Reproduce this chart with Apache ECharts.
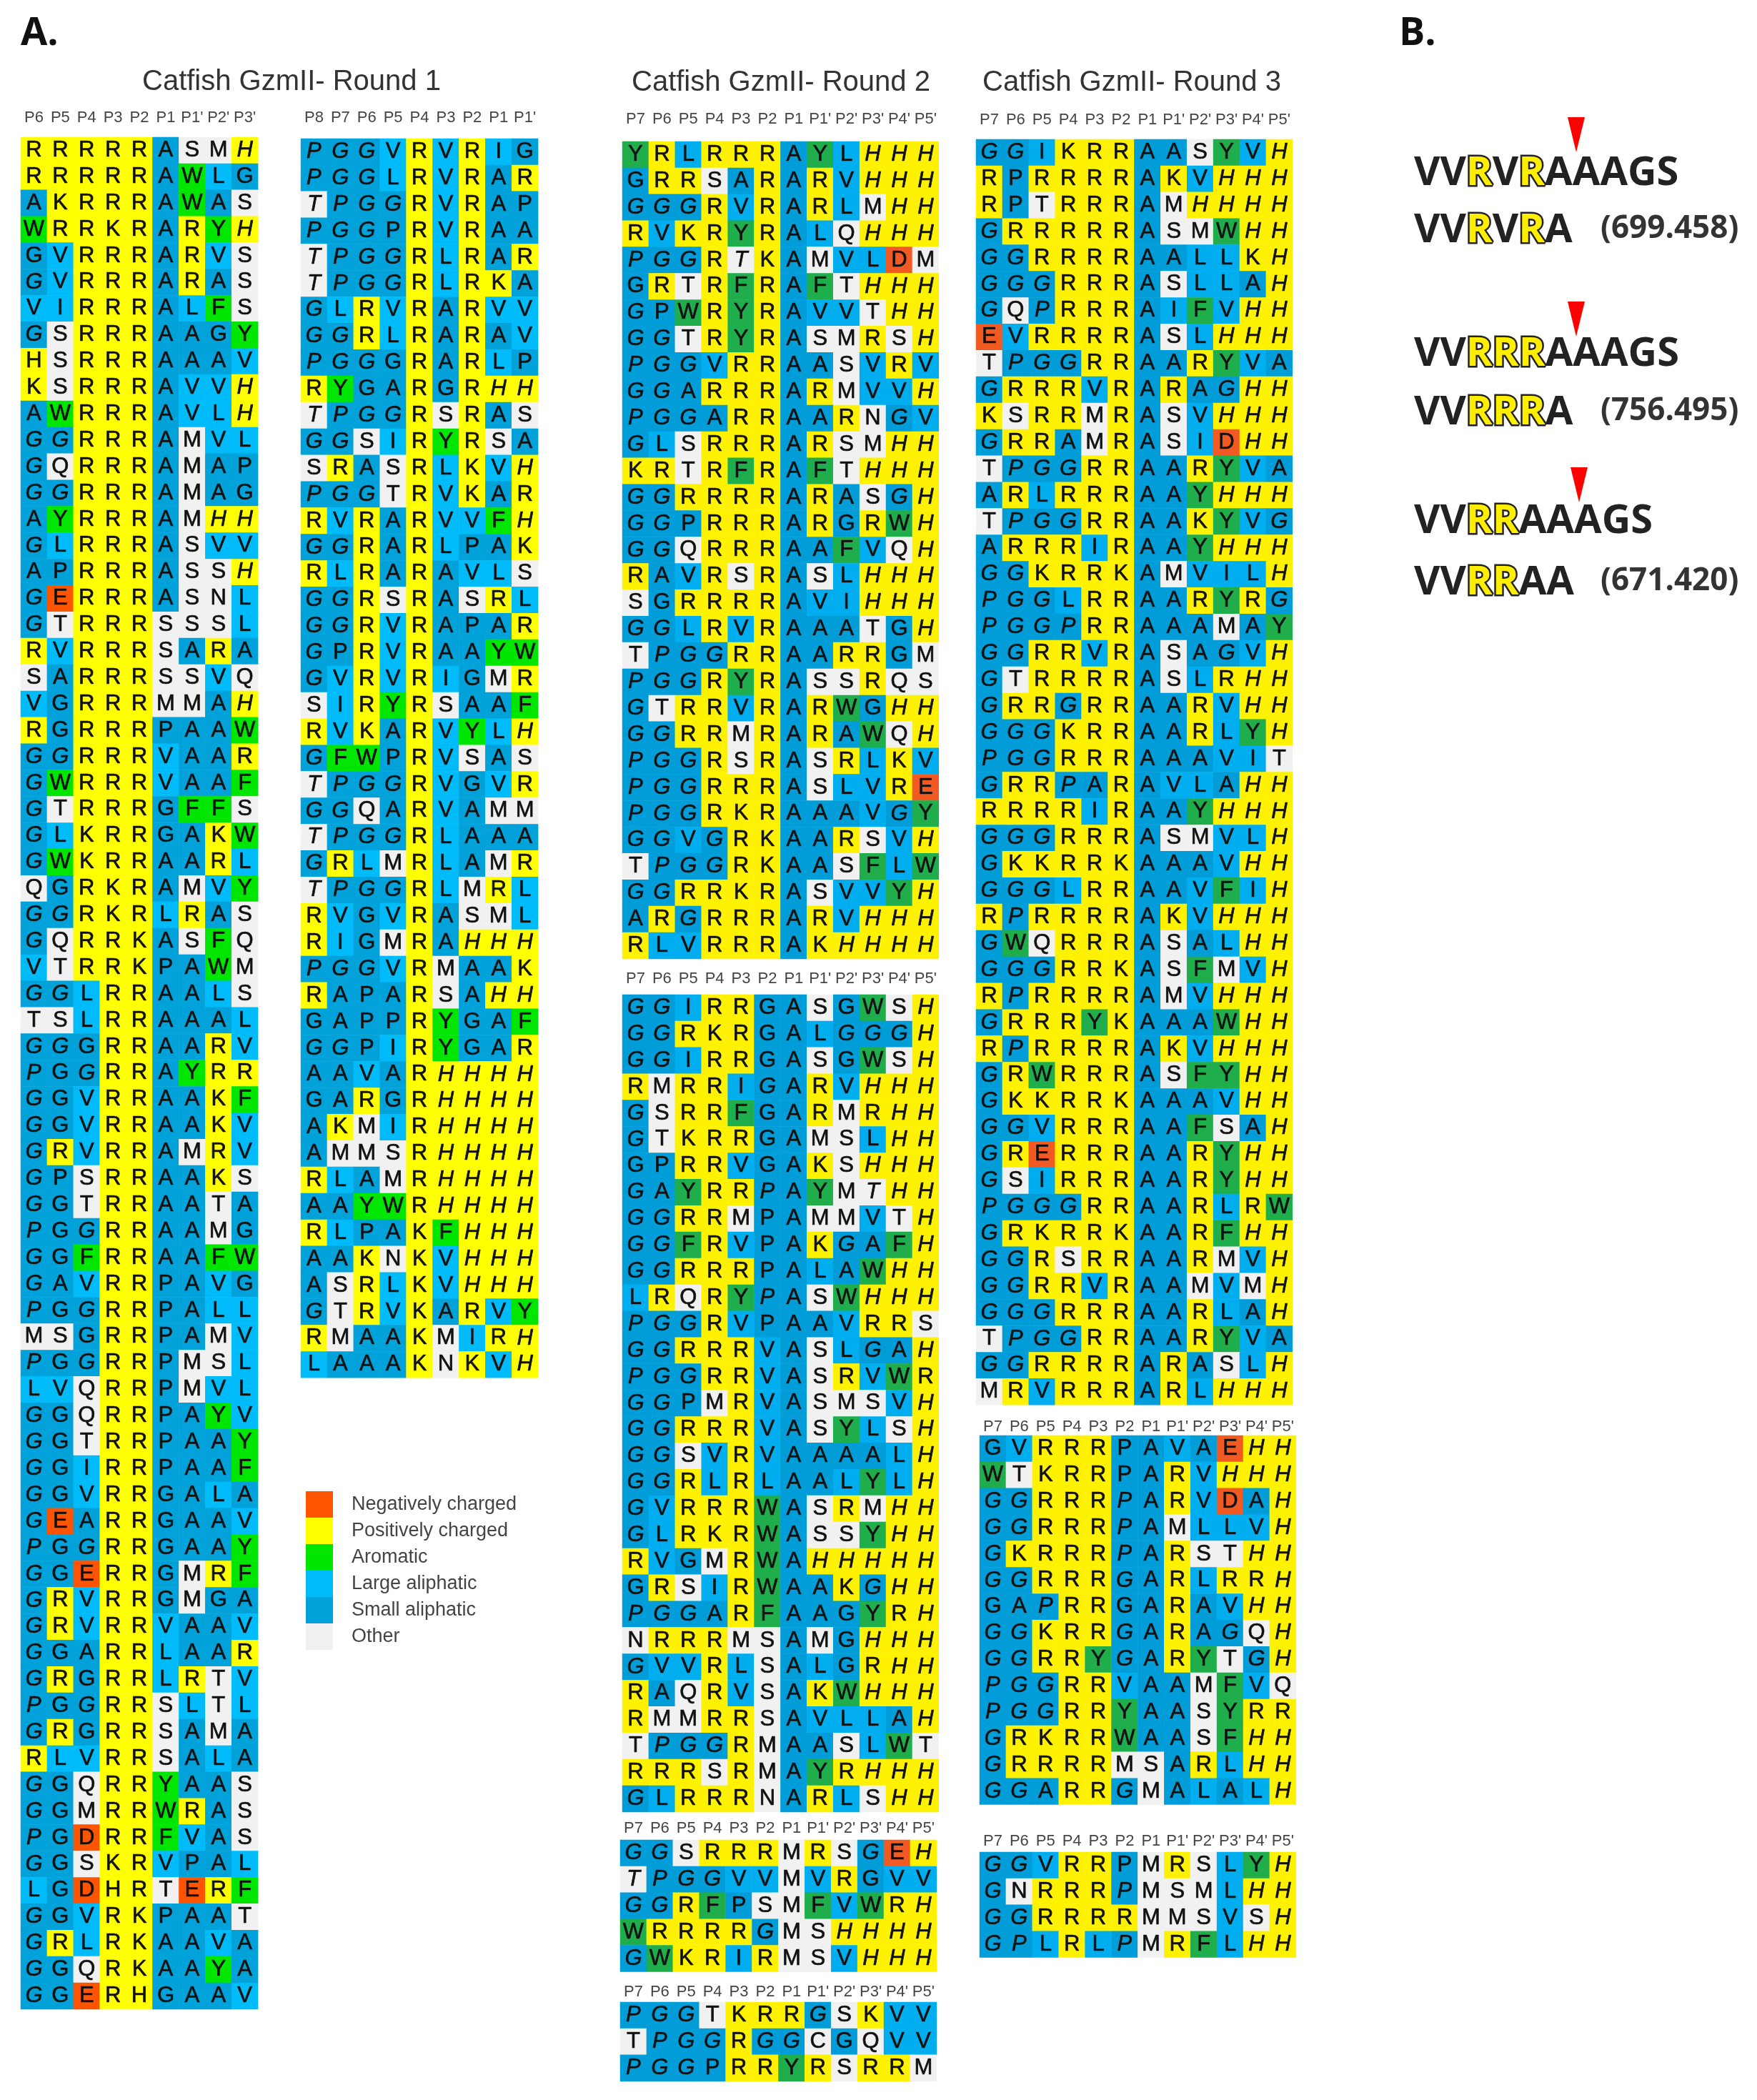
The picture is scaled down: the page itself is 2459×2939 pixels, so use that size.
<!DOCTYPE html>
<html>
<head>
<meta charset="utf-8">
<title>Catfish GzmII</title>
<script src="https://cdn.jsdelivr.net/npm/echarts@6/dist/echarts.min.js"></script>
<style>body { margin: 0; background: #fff; }</style>
</head>
<body>
<div id="chart" style="width: 2459px; height: 2939px;"></div>
<script>
// sequences; lowercase = letter printed in italics there
var round1A = ['RRRRRASMh','RRRRRAWLG','AKRRRAWAS','WRRKRARYh','GVRRRARVS','gVRRRARAS','VIRRRALFS','gSRRRAAGY','HSRRRAAAV','KSRRRAVVh','AWRRRAVLh','ggRRRAMVL','gQRRRAMAP','ggRRRAMAG','AYRRRAMhh',
  'gLRRRASVV','APRRRASSh','gERRRASNL','gTRRRSSSL','RVRRRSARA','SARRRSSVQ','VGRRRMMAh','RGRRRPAAW','ggRRRVAAR','gWRRRVAAF','gTRRRGFFS','gLKRRGAKW','gWKRRAARL','QGRKRAMVY','ggRKRLRAS','gQRRKASFQ','VTRRKPAWM','ggLRRAALS','TSLRRAAAL',
  'ggGRRAARV','pGgRRAYRR','gGVRRAAKF','gGVRRAAKV','gRVRRAMRV','gPSRRAAKS','gGTRRAATA','pGgRRAAMG','gGFRRAAFW','gAVRRPAVG','pGgRRPALL','MSGRRPAMV','pGgRRPMSL','LVQRRPMVL','gGQRRPAYV','gGTRRPAAY','gGIRRPAAF','gGVRRGALA','gEARRGAAV','pGgRRGAAY',
  'gGERRGMRF','gRVRRGMGA','gRVRRVAAV','gGARRLAAR','gRGRRLRTV','pGgRRSLTL','gRGRRSAMA','RLVRRSALA','gGQRRYAAS','gGMRRWRAS','pGDRRFVAS','gGSKRVPAL','LGDHRTERF','gGVRKPAAT','gRLRKAAVA','gGQRKAAYA','gGERHGAAV'];

var round1B = ['pggVRVRIG','pggLRVRAR','tpggRVRAP','pggPRVRAA','tpggRLRAR','tpggRLRKA','gLRVRARVV','ggRLRARAV','pggGRARLP','RYGARGRhh','tpggRSRAS','ggSIRYRSA','SRASRLKVh','pggTRVKAR','RVRARVVFh',
  'ggRARLPAK','RLRARAVLS','ggRSRASRL','ggRVRAPAR','gPRVRAAYW','gVRVRIGMR','SIRYRSAAF','RVKARVYLh','gFWPRVSAS','tpggRVGVR','ggQARVAMM','tpggRLAAA','gRLMRLAMR','tpggRLMRL','RVGVRASML','RIGMRAhhh','pggVRMAAK','RAPARSAhh','GAPPRYGAF',
  'ggPIRYGAR','AAVARhhhh','GARGRhhhh','AKMIRhhhh','AMMSRhhhh','RLAMRhhhh','AAYWRhhhh','RLPAKFhhh','AAKNKVhhh','ASRLKVhhh','gTRVKARVY','RMAAKMIRh','LAAAKNKVh'];

var round2A = ['YRLRRRAYLhhh','GRRSARARVhhh','gggRVRARLMhh','RVKRYRALQhhh','pggRtKAMVLDM','GRTRFRAFThhh','gPWRYRAVVThh','ggTRYRASMRSh','pggVRRAASVRV','ggARRRARMVVh','pggARRAARNgV','gLSRRRARSMhh','KRTRFRAFThhh','ggRRRRARASgh','ggPRRRARGRWh','ggQRRRAAFVQh',
  'RAVRSRASLhhh','SGRRRRAVIhhh','ggLRVRAAATGh','TpggRRAARRGM','pggRYRASSRQS','gTRRVRARWGhh','ggRRMRARAWQh','pggRSRASRLKV','pggRRRASLVRE','pggRKRAAAVgY','ggVgRKAARSVh','TpggRKAASFLW','ggRRKRASVVYh','ARgRRRARVhhh','RLVRRRAKhhhh'];

var round2B = ['ggIRRGASGWSh','ggRKRGALgggh','ggIRRGASGWSh',
  'RMRRIgARVhhh','gSRRFGARMRhh','gTKRRGAMSLhh','GPRRVGAKShhh','gAYRRpAYMthh','ggRRMPAMMVTh','ggFRVPAKgAFh','ggRRRPALAWhh','LRQRYpASWhhh','pggRVPAAVRRS','ggRRRVASLgAh','pggRRVASRVWR','ggPMRVASMSVh','ggRRRVASYLSh','ggSVRVAAAALh','ggRLRLAALYLh','gVRRRWASRMhh','gLRKRWASSYhh','RVGMRWAhhhhh','GRSIRWAAKghh',
  'pggARFAAGYRh','NRRRMSAMGhhh','gVVRLSALGRhh','RAQRVSAKWhhh','RMMRRSAVLLAh','TpggRMAASLWT','RRRSRMAYRhhh','gLRRRNARLShh'];

var round2C = ['ggSRRRMRSgEh','tpggVVMVRGVV','ggRFPSMFVWRh','WRRRRgMShhhh','gWKRIRMSVhhh'];
var round2D = ['pggTKRRgSKVV','TpggRggCGQVV','pggPRRYRSRRM'];

var round3A = ['ggIKRRAASYVh','RPRRRRAKVhhh','RPTRRRAMhhhh','gRRRRRASMWhh','ggRRRRAALLKh','gggRRRASLLAh','gQpRRRAIFVhh','EVRRRRASLhhh','TpggRRAARYVA','gRRRVRARAghh','KSRRMRASVhhh','gRRAMRASIDhh','TpggRRAARYVA','ARLRRRAAYhhh','TpggRRAAKYVg','ARRRIRAAYhhh',
  'ggKRRKAMVILh','pggLRRAARYRg','pggpRRAAAMAY','ggRRVRASAgVh','gTRRRRASLRhh','gRRgRRAARVhh','gggKRRAARLYh','pggRRRAAAVIT','gRRpARAVLAhh','RRRRIRAAYhhh','gggRRRASMVLh','gKKRRKAAAVhh','gggLRRAAVFIh','RpRRRRAKVhhh','gWQRRRASALhh','gggRRKASFMVh','RpRRRRAMVhhh','gRRRYKAAAWhh','RpRRRRAKVhhh','gRWRRRASFYhh',
  'gKKRRKAAAVhh','ggVRRRAAFSAh','gRERRRAARYhh','gSIRRRAARYhh','pgggRRAARLRW','gRKRRKAARFhh','ggRSRRAARMVh','ggRRVRAAMVMh','gggRRRAARLAh','TpggRRAARYVA','ggRRRRARASLh','MRVRRRARLhhh'];

var round3B = ['GVRRRPAVAEhh','WTKRRPARVhhh','ggRRRpARVDAh','ggRRRpAMLLVh','gKRRRpARSThh','ggRRRgARLRRh',
  'GApRRGARAVhh','ggKRRgARAgQh','ggRRYgARYTgh','pggRRVAAMFVQ','pggRRYAASYRR','gRKRRWAASFhh','gRRRRMSARLhh','ggARRgMALALh'];

var round3C = ['ggVRRPMRSLYh','gNRRRpMSMLhh','ggRRRRMMSVSh','gpLRLpMRFLhh'];

// position labels
var headerA = ['P6','P5','P4','P3','P2','P1',"P1'","P2'","P3'"];
var headerB = ['P8','P7','P6','P5','P4','P3','P2','P1',"P1'"];
var headerC = ['P7','P6','P5','P4','P3','P2','P1',"P1'","P2'","P3'","P4'","P5'"];

var classNames = ['Negatively charged','Positively charged','Aromatic','Large aliphatic','Small aliphatic','Other'];
var classOf = { D:0, E:0, R:1, K:1, H:1, F:2, W:2, Y:2, V:3, L:3, I:3, A:4, G:4, P:4, S:5, T:5, M:5, Q:5, N:5, C:5 };

// panel B
var peptides = ['VVRVRAAAGS','VVRVRA','VVRRRAAAGS','VVRRRA','VVRRAAAGS','VVRRAA'];
var masses = ['(699.458)','(756.495)','(671.420)'];

// round 1 was printed with a brighter palette than rounds 2 and 3
var colorsRound1 = ['#ff5500','#ffff00','#00e600','#00bbf9','#00a2d9','#f1f1f1'];
var colorsOther = ['#f15a22','#fff200','#1fae4b','#00aeef','#009dd9','#f1f1f1'];

var CELL = 36.9;

var panels = [
  { rows: round1A, header: headerA, left: 29, top: 192, margin: 16, vm: 0 },
  { rows: round1B, header: headerB, left: 421, top: 194, margin: 18, vm: 0 },
  { rows: round2A, header: headerC, left: 871, top: 198, margin: 20, vm: 1 },
  { rows: round2B, header: headerC, left: 871, top: 1392, margin: 11, vm: 1 },
  { rows: round2C, header: headerC, left: 868, top: 2575, margin: 5, vm: 1 },
  { rows: round2D, header: headerC, left: 868, top: 2802, margin: 3, vm: 1 },
  { rows: round3A, header: headerC, left: 1366, top: 195, margin: 16, vm: 1 },
  { rows: round3B, header: headerC, left: 1371, top: 2009, margin: 1, vm: 1 },
  { rows: round3C, header: headerC, left: 1371, top: 2592, margin: 4, vm: 1 }
];

var grids = [], xAxes = [], yAxes = [], series = [];
panels.forEach(function (p, i) {
  grids.push({ left: p.left, top: p.top, width: p.header.length * CELL, height: p.rows.length * CELL });
  xAxes.push({
    type: 'category', gridIndex: i, position: 'top', data: p.header,
    axisLine: { show: false }, axisTick: { show: false }, splitLine: { show: false },
    axisLabel: { interval: 0, margin: p.margin, fontSize: 22, color: '#444', fontFamily: 'Liberation Sans' }
  });
  yAxes.push({ type: 'category', gridIndex: i, inverse: true, show: false, data: p.rows.map(function (r, k) { return k; }) });

  var cells = [];
  p.rows.forEach(function (row, y) {
    row.split('').forEach(function (ch, x) {
      var letter = ch.toUpperCase();
      cells.push({
        name: letter,
        value: [x, y, classOf[letter]],
        label: { fontStyle: ch === letter ? 'normal' : 'italic' }
      });
    });
  });
  series.push({
    type: 'heatmap', xAxisIndex: i, yAxisIndex: i, data: cells, progressive: 0, silent: true,
    label: { show: true, formatter: '{b}', fontSize: 31, color: '#111', textBorderColor: '#222', textBorderWidth: 0.7, fontFamily: 'Liberation Sans' }
  });
});

function seriesFor(vm) {
  var out = [];
  panels.forEach(function (p, i) { if (p.vm === vm) out.push(i); });
  return out;
}
function piecesFrom(colors) {
  return classNames.map(function (n, i) { return { value: i, label: n, color: colors[i] }; });
}

// titles, panel letters and the peptide lines of panel B
var titles = [
  { text: 'Catfish GzmII- Round 1', left: 199, top: 95 },
  { text: 'Catfish GzmII- Round 2', left: 884, top: 96 },
  { text: 'Catfish GzmII- Round 3', left: 1375, top: 96 }
].map(function (t) {
  t.padding = 0;
  t.textStyle = { fontSize: 40, fontWeight: 'normal', color: '#333', fontFamily: 'Liberation Sans' };
  return t;
});
[['A.', 29, 21], ['B.', 1958, 21]].forEach(function (t) {
  titles.push({ text: t[0], left: t[1], top: t[2], padding: 0, textStyle: { fontSize: 54, fontWeight: 'bold', color: '#111', fontFamily: 'Open Sans' } });
});

var peptideY = [243, 323, 496, 578, 730, 816];
var pepStyle = { fontSize: 56, fontWeight: 'bold', fontFamily: 'Open Sans', lineHeight: 64 };
peptides.forEach(function (seq, i) {
  var text = seq.replace(/[A-QS-Z]+/g, function (s) { return '{n|' + s + '}'; }).replace(/R/g, '{y|R}');
  titles.push({
    text: text, left: 1979, top: peptideY[i] - 32, padding: 0,
    textStyle: {
      rich: {
        n: Object.assign({ color: '#222' }, pepStyle),
        y: Object.assign({ color: '#ffee00', textBorderColor: '#222', textBorderWidth: 5 }, pepStyle)
      }
    }
  });
});
masses.forEach(function (m, i) {
  titles.push({
    text: m, left: 2240, top: peptideY[i * 2 + 1] - 25, padding: 0,
    textStyle: { fontSize: 44, fontWeight: 'bold', color: '#333', fontFamily: 'Open Sans' }
  });
});

// cleavage arrowheads of panel B
var arrows = [[2206, 164], [2206, 422], [2210, 654]].map(function (a) {
  return {
    type: 'polygon', silent: true,
    shape: { points: [[a[0] - 12, a[1]], [a[0] + 12, a[1]], [a[0], a[1] + 49]] },
    style: { fill: '#ff0000' }
  };
});

var chart = echarts.init(document.getElementById('chart'));
chart.setOption({
  animation: false,
  backgroundColor: '#fff',
  title: titles,
  grid: grids,
  xAxis: xAxes,
  yAxis: yAxes,
  series: series,
  graphic: arrows,
  visualMap: [
    {
      type: 'piecewise', dimension: 2, seriesIndex: seriesFor(0), pieces: piecesFrom(colorsRound1),
      left: 428, top: 2087, inverse: true, orient: 'vertical', padding: 0, itemWidth: 38, itemHeight: 37, itemGap: 0,
      textGap: 26, itemSymbol: 'rect', selectedMode: false, hoverLink: false,
      textStyle: { fontSize: 27, color: '#444', fontFamily: 'Liberation Sans' }
    },
    { type: 'piecewise', dimension: 2, seriesIndex: seriesFor(1), pieces: piecesFrom(colorsOther), show: false }
  ]
});
</script>
</body>
</html>
